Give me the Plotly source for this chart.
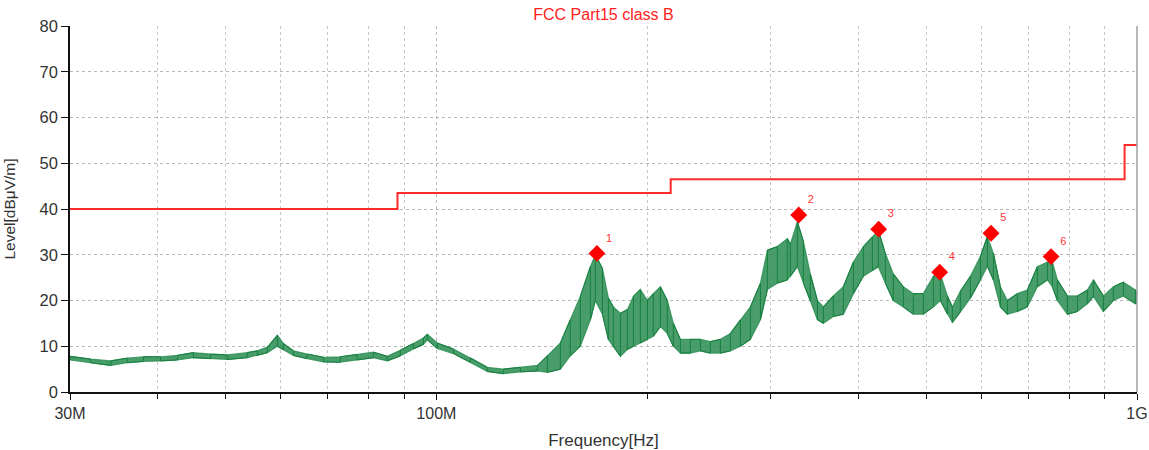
import plotly.graph_objects as go

# ---- Data ----
# Measured trace: frequency (MHz) with lower / upper envelope of the noisy level (dBuV/m)
freq_mhz = [30.0, 32.1, 34.3, 36.2, 38.2, 40.4, 42.7, 45.0, 47.6, 50.3, 53.7, 55.5, 57.4, 59.3, 60.5,
            62.5, 65.4, 69.0, 72.9, 77.1, 81.3, 85.1, 88.8, 92.7, 95.8, 97.1, 100.3, 105.8, 111.8,
            118.2, 124.6, 131.8, 139.4, 144.0, 150.3, 155.3, 160.5, 165.9, 168.6, 172.6, 176.0,
            178.9, 183.1, 187.3, 191.1, 195.5, 200.1, 204.0, 208.8, 213.6, 217.9, 223.0, 230.4,
            238.1, 246.1, 254.3, 262.8, 271.6, 280.7, 290.1, 296.8, 306.7, 316.9, 320.1, 327.5,
            334.0, 341.8, 349.8, 356.7, 368.6, 381.0, 393.7, 406.9, 419.1, 427.4, 437.3, 449.0,
            464.0, 479.5, 495.5, 512.1, 524.0, 536.2, 545.1, 559.6, 578.3, 597.7, 611.6, 623.8,
            638.3, 653.1, 674.9, 697.5, 720.8, 744.9, 757.2, 769.8, 795.5, 822.1, 849.5, 866.5,
            895.4, 925.3, 956.3, 994.7, 1000.0]
level_lo = [7.0, 6.4, 5.8, 6.4, 6.7, 6.8, 7.0, 7.5, 7.3, 7.1, 7.5, 8.0, 8.6, 10.0, 9.2,
            8.0, 7.3, 6.6, 6.5, 7.0, 7.5, 6.8, 7.9, 9.4, 10.4, 11.4, 9.5, 8.4, 6.5,
            4.5, 4.0, 4.4, 4.6, 4.3, 5.0, 7.9, 10.0, 15.8, 20.0, 17.0, 11.5,
            10.0, 7.8, 9.3, 10.0, 10.7, 11.5, 12.2, 14.3, 12.8, 10.0, 8.5, 8.5,
            9.0, 8.5, 8.5, 9.0, 10.0, 11.5, 15.8, 22.4, 23.8, 24.5, 25.3, 27.4,
            23.8, 20.0, 15.8, 15.0, 16.5, 17.0, 21.5, 25.3, 26.6, 27.4, 23.8, 20.0,
            18.6, 17.0, 17.0, 18.6, 20.0, 17.0, 15.2, 17.5, 20.5, 24.5, 27.5, 24.5,
            18.6, 17.0, 17.6, 18.6, 23.0, 24.5, 23.0, 20.0, 17.0, 17.6, 19.3, 20.9,
            17.6, 20.0, 21.0, 19.3, 19.5]
level_hi = [7.8, 7.2, 6.8, 7.4, 7.7, 7.7, 8.0, 8.6, 8.3, 8.1, 8.6, 9.0, 9.8, 12.4, 10.6,
            9.0, 8.3, 7.6, 7.7, 8.2, 8.7, 7.8, 9.1, 10.6, 11.8, 12.6, 10.7, 9.4, 7.5,
            5.4, 5.0, 5.4, 5.8, 7.9, 10.7, 15.8, 20.9, 27.4, 30.0, 27.0, 20.5,
            18.6, 17.2, 18.0, 20.9, 22.4, 20.0, 21.5, 23.0, 20.0, 15.0, 11.5, 11.5,
            11.5, 11.0, 11.5, 12.8, 15.8, 18.6, 23.8, 31.0, 31.8, 33.5, 32.3, 37.2,
            33.0, 25.8, 20.0, 18.6, 21.0, 23.0, 28.4, 31.8, 33.9, 35.3, 30.3, 25.8,
            23.0, 21.5, 21.5, 25.3, 25.8, 21.0, 18.6, 22.0, 25.3, 29.6, 34.0, 30.3,
            23.0, 20.0, 21.5, 22.3, 27.4, 28.4, 28.4, 24.5, 21.0, 21.0, 22.3, 24.5,
            21.0, 23.0, 24.0, 22.3, 21.5]

# Limit line (FCC Part15 class B)
limit_freq_mhz = [30, 88, 216, 960, 1000]
limit_level = [40.0, 43.5, 46.5, 54.0, 54.0]

# Peak markers
marker_freq_mhz = [169.5, 329.0, 427.9, 522.9, 619.0, 754.0]
marker_level = [30.3, 38.7, 35.6, 26.2, 34.7, 29.6]
marker_labels = ["1", "2", "3", "4", "5", "6"]

# Axis ticks
x_tickvals = [30, 100, 1000]
x_ticktext = ["30M", "100M", "1G"]
x_minor = [40, 50, 60, 70, 80, 90, 200, 300, 400, 500, 600, 700, 800, 900]

# ---- Build zigzag trace from the envelopes ----
zig_x, zig_y = [], []
for i, f in enumerate(freq_mhz):
    if i % 2 == 0:
        zig_x += [f, f]
        zig_y += [level_lo[i], level_hi[i]]
    else:
        zig_x += [f, f]
        zig_y += [level_hi[i], level_lo[i]]

GREEN = "#17803f"
FONT = "Liberation Sans, Arial, sans-serif"

fig = go.Figure()
# envelope band
fig.add_trace(go.Scatter(x=freq_mhz, y=level_lo, mode="lines",
                         line=dict(color="rgba(40,140,80,0.8)", width=1.2),
                         hoverinfo="skip", showlegend=False))
fig.add_trace(go.Scatter(x=freq_mhz, y=level_hi, mode="lines", fill="tonexty",
                         fillcolor="rgba(40,140,80,0.85)",
                         line=dict(color="rgba(40,140,80,0.8)", width=1.2),
                         hoverinfo="skip", showlegend=False))
fig.add_trace(go.Scatter(x=zig_x, y=zig_y, mode="lines",
                         line=dict(color=GREEN, width=1), showlegend=False))
# limit line
fig.add_trace(go.Scatter(x=limit_freq_mhz, y=limit_level, mode="lines",
                         line=dict(color="#ff2a2a", width=2, shape="hv"), showlegend=False))
# peak markers
fig.add_trace(go.Scatter(x=marker_freq_mhz, y=marker_level, mode="markers+text",
                         marker=dict(symbol="diamond", size=13, color="#ff0000"),
                         text=marker_labels, textposition="top right",
                         textfont=dict(color="#ff3333", size=11, family=FONT),
                         showlegend=False))

fig.update_layout(
    width=1149, height=450,
    margin=dict(l=70, r=12, t=26, b=58),
    paper_bgcolor="white", plot_bgcolor="white",
    font=dict(family=FONT, color="#222", size=15),
    title=dict(text="FCC Part15 class B", x=0.5, xref="paper", xanchor="center",
               y=0.967, yanchor="middle",
               font=dict(color="#ff2020", size=16, family=FONT)),
    showlegend=False,
)
fig.update_xaxes(
    type="log", range=[1.4771, 3.0],
    tickvals=x_tickvals, ticktext=x_ticktext,
    showgrid=True, gridcolor="#b8b8b8", griddash="dot", gridwidth=1,
    showline=True, linecolor="#111", linewidth=1.5,
    ticks="outside", ticklen=6, tickcolor="#111",
    minor=dict(tickvals=x_minor, showgrid=True, gridcolor="#c8c8c8", griddash="dot",
               ticks="outside", ticklen=5, tickcolor="#111"),
    zeroline=False, automargin=False,
    title=dict(text="Frequency[Hz]", font=dict(size=17, color="#333"), standoff=14),
    tickfont=dict(size=16, color="#333"),
)
fig.update_yaxes(
    range=[0, 80], dtick=10,
    showgrid=True, gridcolor="#b8b8b8", griddash="dot", gridwidth=1,
    showline=True, linecolor="#111", linewidth=1.5,
    ticks="outside", ticklen=7, tickcolor="#111",
    zeroline=False, automargin=False,
    title=dict(text="Level[dBμV/m]", font=dict(size=15.5, color="#333"), standoff=20),
    tickfont=dict(size=16.5, color="#333"),
)
# right frame border
fig.add_shape(type="line", xref="paper", yref="paper", x0=1, x1=1, y0=0, y1=1,
              line=dict(color="#a0a0a0", width=1.5))

# remove the default page margin so the 1149x450 figure fills the window exactly
fig.write_html("out.html",
               config={"displayModeBar": False},
               post_script="document.body.style.margin='0';document.body.style.overflow='hidden';")
